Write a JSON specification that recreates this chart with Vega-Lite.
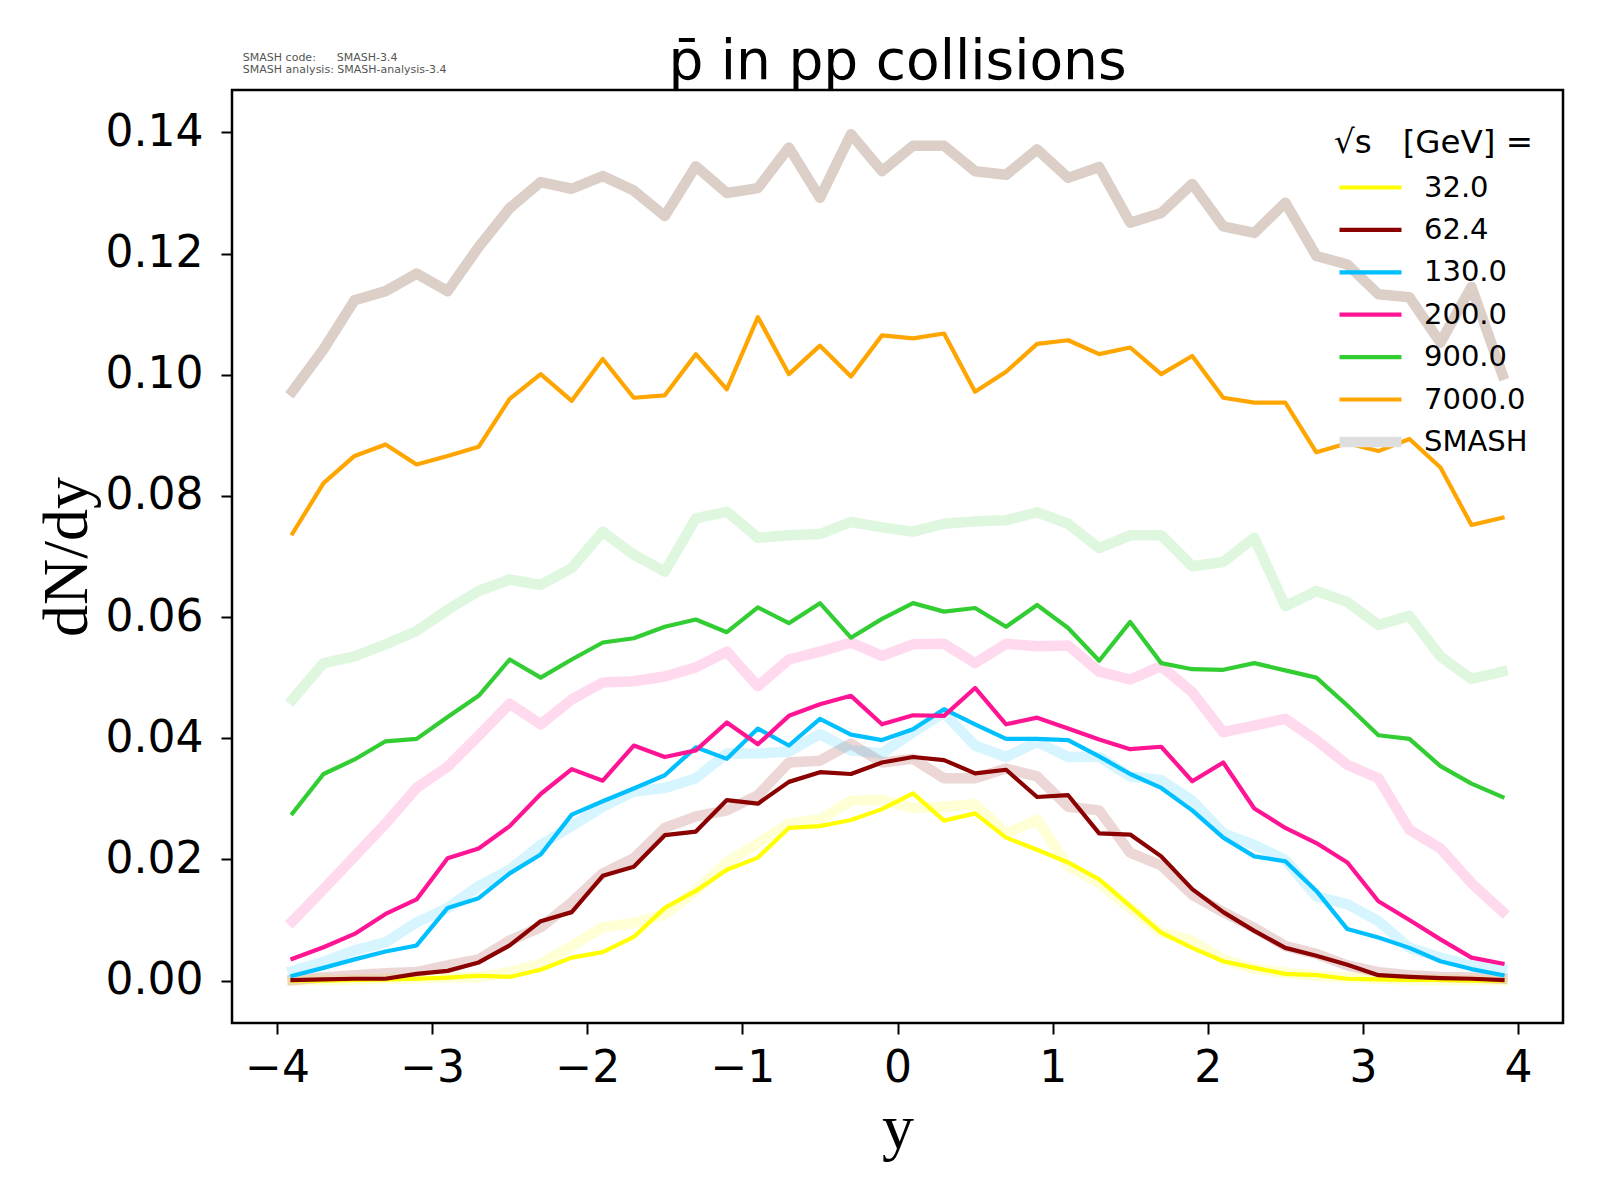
{
  "$schema": "https://vega.github.io/schema/vega-lite/v6.json",
  "width": 1331,
  "height": 933,
  "autosize": {"type": "none"},
  "padding": {"left": 232, "top": 90, "right": 37, "bottom": 177},
  "background": "white",
  "config": {
    "view": {"stroke": "black", "strokeWidth": 2.5},
    "axis": {
      "grid": false,
      "domain": false,
      "tickSize": 11,
      "tickWidth": 2,
      "tickColor": "black",
      "labelFont": "DejaVu Sans",
      "labelFontSize": 44,
      "labelColor": "black",
      "titleFont": "Liberation Serif",
      "titleFontSize": 64,
      "titleFontWeight": "normal",
      "titleColor": "black"
    },
    "legend": {
      "orient": "none",
      "legendX": 1102,
      "legendY": 37,
      "padding": 0,
      "symbolType": "stroke",
      "symbolSize": 3844,
      "symbolStrokeWidth": 4.2,
      "symbolOffset": 22,
      "clipHeight": 30,
      "labelFont": "DejaVu Sans",
      "labelFontSize": 29,
      "labelColor": "black",
      "labelOffset": 39,
      "rowPadding": 12.4,
      "titleFont": "DejaVu Sans",
      "titleFontSize": 32.5,
      "titleFontWeight": "normal",
      "titleColor": "black",
      "titlePadding": 13,
      "titleLimit": 400
    }
  },
  "data": {
    "name": "rapidity",
    "values": [
      {"y": -3.9, "e32": 0.0000, "e62": 0.0001, "e130": 0.0008, "e200": 0.0036, "e900": 0.0276, "e7000": 0.0738, "s32": 0.0000, "s62": 0.0001, "s130": 0.0016, "s200": 0.0098, "s900": 0.0464, "s7000": 0.0973},
      {"y": -3.7, "e32": 0.0000, "e62": 0.0002, "e130": 0.0021, "e200": 0.0055, "e900": 0.0341, "e7000": 0.0821, "s32": 0.0001, "s62": 0.0005, "s130": 0.0031, "s200": 0.0151, "s900": 0.0524, "s7000": 0.1042},
      {"y": -3.5, "e32": 0.0001, "e62": 0.0003, "e130": 0.0035, "e200": 0.0077, "e900": 0.0365, "e7000": 0.0866, "s32": 0.0002, "s62": 0.0009, "s130": 0.0050, "s200": 0.0205, "s900": 0.0535, "s7000": 0.1123},
      {"y": -3.3, "e32": 0.0002, "e62": 0.0003, "e130": 0.0048, "e200": 0.0110, "e900": 0.0395, "e7000": 0.0885, "s32": 0.0003, "s62": 0.0012, "s130": 0.0063, "s200": 0.0259, "s900": 0.0555, "s7000": 0.1138},
      {"y": -3.1, "e32": 0.0003, "e62": 0.0011, "e130": 0.0058, "e200": 0.0134, "e900": 0.0399, "e7000": 0.0852, "s32": 0.0004, "s62": 0.0014, "s130": 0.0096, "s200": 0.0318, "s900": 0.0577, "s7000": 0.1167},
      {"y": -2.9, "e32": 0.0005, "e62": 0.0016, "e130": 0.0120, "e200": 0.0202, "e900": 0.0435, "e7000": 0.0866, "s32": 0.0005, "s62": 0.0025, "s130": 0.0120, "s200": 0.0353, "s900": 0.0612, "s7000": 0.1138},
      {"y": -2.7, "e32": 0.0008, "e62": 0.0030, "e130": 0.0136, "e200": 0.0218, "e900": 0.0470, "e7000": 0.0881, "s32": 0.0006, "s62": 0.0035, "s130": 0.0156, "s200": 0.0404, "s900": 0.0643, "s7000": 0.1211},
      {"y": -2.5, "e32": 0.0006, "e62": 0.0058, "e130": 0.0177, "e200": 0.0255, "e900": 0.0530, "e7000": 0.0960, "s32": 0.0014, "s62": 0.0066, "s130": 0.0183, "s200": 0.0457, "s900": 0.0662, "s7000": 0.1275},
      {"y": -2.3, "e32": 0.0018, "e62": 0.0098, "e130": 0.0208, "e200": 0.0308, "e900": 0.0500, "e7000": 0.1001, "s32": 0.0028, "s62": 0.0088, "s130": 0.0224, "s200": 0.0423, "s900": 0.0653, "s7000": 0.1318},
      {"y": -2.1, "e32": 0.0038, "e62": 0.0113, "e130": 0.0274, "e200": 0.0349, "e900": 0.0530, "e7000": 0.0957, "s32": 0.0057, "s62": 0.0129, "s130": 0.0255, "s200": 0.0464, "s900": 0.0681, "s7000": 0.1307},
      {"y": -1.9, "e32": 0.0047, "e62": 0.0173, "e130": 0.0296, "e200": 0.0330, "e900": 0.0558, "e7000": 0.1026, "s32": 0.0088, "s62": 0.0177, "s130": 0.0287, "s200": 0.0492, "s900": 0.0741, "s7000": 0.1328},
      {"y": -1.7, "e32": 0.0072, "e62": 0.0188, "e130": 0.0317, "e200": 0.0388, "e900": 0.0565, "e7000": 0.0962, "s32": 0.0095, "s62": 0.0202, "s130": 0.0312, "s200": 0.0494, "s900": 0.0703, "s7000": 0.1304},
      {"y": -1.5, "e32": 0.0120, "e62": 0.0240, "e130": 0.0339, "e200": 0.0369, "e900": 0.0584, "e7000": 0.0966, "s32": 0.0110, "s62": 0.0252, "s130": 0.0318, "s200": 0.0502, "s900": 0.0675, "s7000": 0.1262},
      {"y": -1.3, "e32": 0.0148, "e62": 0.0246, "e130": 0.0385, "e200": 0.0380, "e900": 0.0596, "e7000": 0.1034, "s32": 0.0148, "s62": 0.0271, "s130": 0.0334, "s200": 0.0517, "s900": 0.0763, "s7000": 0.1344},
      {"y": -1.1, "e32": 0.0183, "e62": 0.0298, "e130": 0.0366, "e200": 0.0426, "e900": 0.0575, "e7000": 0.0976, "s32": 0.0195, "s62": 0.0281, "s130": 0.0375, "s200": 0.0543, "s900": 0.0774, "s7000": 0.1300},
      {"y": -0.9, "e32": 0.0203, "e62": 0.0292, "e130": 0.0416, "e200": 0.0390, "e900": 0.0616, "e7000": 0.1095, "s32": 0.0227, "s62": 0.0306, "s130": 0.0375, "s200": 0.0486, "s900": 0.0731, "s7000": 0.1308},
      {"y": -0.7, "e32": 0.0252, "e62": 0.0328, "e130": 0.0388, "e200": 0.0437, "e900": 0.0590, "e7000": 0.1001, "s32": 0.0259, "s62": 0.0360, "s130": 0.0378, "s200": 0.0530, "s900": 0.0735, "s7000": 0.1375},
      {"y": -0.5, "e32": 0.0255, "e62": 0.0344, "e130": 0.0432, "e200": 0.0456, "e900": 0.0623, "e7000": 0.1048, "s32": 0.0266, "s62": 0.0363, "s130": 0.0407, "s200": 0.0543, "s900": 0.0737, "s7000": 0.1292},
      {"y": -0.3, "e32": 0.0265, "e62": 0.0341, "e130": 0.0406, "e200": 0.0470, "e900": 0.0566, "e7000": 0.0997, "s32": 0.0297, "s62": 0.0391, "s130": 0.0380, "s200": 0.0558, "s900": 0.0757, "s7000": 0.1397},
      {"y": -0.1, "e32": 0.0283, "e62": 0.0360, "e130": 0.0397, "e200": 0.0423, "e900": 0.0597, "e7000": 0.1065, "s32": 0.0298, "s62": 0.0360, "s130": 0.0375, "s200": 0.0536, "s900": 0.0748, "s7000": 0.1336},
      {"y": 0.1, "e32": 0.0309, "e62": 0.0369, "e130": 0.0415, "e200": 0.0438, "e900": 0.0623, "e7000": 0.1060, "s32": 0.0285, "s62": 0.0366, "s130": 0.0410, "s200": 0.0555, "s900": 0.0741, "s7000": 0.1378},
      {"y": 0.3, "e32": 0.0264, "e62": 0.0364, "e130": 0.0448, "e200": 0.0437, "e900": 0.0609, "e7000": 0.1068, "s32": 0.0287, "s62": 0.0334, "s130": 0.0442, "s200": 0.0556, "s900": 0.0754, "s7000": 0.1378},
      {"y": 0.5, "e32": 0.0276, "e62": 0.0342, "e130": 0.0423, "e200": 0.0483, "e900": 0.0615, "e7000": 0.0972, "s32": 0.0291, "s62": 0.0334, "s130": 0.0388, "s200": 0.0524, "s900": 0.0758, "s7000": 0.1336},
      {"y": 0.7, "e32": 0.0236, "e62": 0.0348, "e130": 0.0399, "e200": 0.0423, "e900": 0.0584, "e7000": 0.1005, "s32": 0.0243, "s62": 0.0350, "s130": 0.0369, "s200": 0.0556, "s900": 0.0760, "s7000": 0.1330},
      {"y": 0.9, "e32": 0.0216, "e62": 0.0303, "e130": 0.0399, "e200": 0.0434, "e900": 0.0620, "e7000": 0.1051, "s32": 0.0265, "s62": 0.0337, "s130": 0.0394, "s200": 0.0552, "s900": 0.0773, "s7000": 0.1372},
      {"y": 1.1, "e32": 0.0195, "e62": 0.0306, "e130": 0.0397, "e200": 0.0416, "e900": 0.0582, "e7000": 0.1057, "s32": 0.0189, "s62": 0.0287, "s130": 0.0369, "s200": 0.0553, "s900": 0.0754, "s7000": 0.1325},
      {"y": 1.3, "e32": 0.0167, "e62": 0.0243, "e130": 0.0370, "e200": 0.0398, "e900": 0.0528, "e7000": 0.1034, "s32": 0.0161, "s62": 0.0281, "s130": 0.0369, "s200": 0.0510, "s900": 0.0714, "s7000": 0.1343},
      {"y": 1.5, "e32": 0.0123, "e62": 0.0241, "e130": 0.0341, "e200": 0.0382, "e900": 0.0592, "e7000": 0.1045, "s32": 0.0120, "s62": 0.0211, "s130": 0.0337, "s200": 0.0497, "s900": 0.0735, "s7000": 0.1251},
      {"y": 1.7, "e32": 0.0079, "e62": 0.0205, "e130": 0.0318, "e200": 0.0386, "e900": 0.0524, "e7000": 0.1001, "s32": 0.0079, "s62": 0.0190, "s130": 0.0331, "s200": 0.0519, "s900": 0.0735, "s7000": 0.1267},
      {"y": 1.9, "e32": 0.0054, "e62": 0.0151, "e130": 0.0281, "e200": 0.0329, "e900": 0.0514, "e7000": 0.1031, "s32": 0.0066, "s62": 0.0142, "s130": 0.0297, "s200": 0.0476, "s900": 0.0684, "s7000": 0.1315},
      {"y": 2.1, "e32": 0.0032, "e62": 0.0113, "e130": 0.0236, "e200": 0.0360, "e900": 0.0513, "e7000": 0.0962, "s32": 0.0035, "s62": 0.0113, "s130": 0.0243, "s200": 0.0410, "s900": 0.0691, "s7000": 0.1245},
      {"y": 2.3, "e32": 0.0021, "e62": 0.0082, "e130": 0.0205, "e200": 0.0284, "e900": 0.0524, "e7000": 0.0954, "s32": 0.0019, "s62": 0.0087, "s130": 0.0224, "s200": 0.0421, "s900": 0.0731, "s7000": 0.1234},
      {"y": 2.5, "e32": 0.0011, "e62": 0.0054, "e130": 0.0197, "e200": 0.0252, "e900": 0.0512, "e7000": 0.0954, "s32": 0.0013, "s62": 0.0057, "s130": 0.0199, "s200": 0.0432, "s900": 0.0618, "s7000": 0.1284},
      {"y": 2.7, "e32": 0.0009, "e62": 0.0041, "e130": 0.0148, "e200": 0.0227, "e900": 0.0500, "e7000": 0.0872, "s32": 0.0008, "s62": 0.0044, "s130": 0.0139, "s200": 0.0397, "s900": 0.0643, "s7000": 0.1196},
      {"y": 2.9, "e32": 0.0003, "e62": 0.0026, "e130": 0.0085, "e200": 0.0195, "e900": 0.0454, "e7000": 0.0887, "s32": 0.0005, "s62": 0.0025, "s130": 0.0126, "s200": 0.0356, "s900": 0.0625, "s7000": 0.1182},
      {"y": 3.1, "e32": 0.0002, "e62": 0.0009, "e130": 0.0071, "e200": 0.0131, "e900": 0.0405, "e7000": 0.0874, "s32": 0.0003, "s62": 0.0014, "s130": 0.0098, "s200": 0.0334, "s900": 0.0587, "s7000": 0.1133},
      {"y": 3.3, "e32": 0.0001, "e62": 0.0006, "e130": 0.0054, "e200": 0.0100, "e900": 0.0399, "e7000": 0.0894, "s32": 0.0002, "s62": 0.0009, "s130": 0.0054, "s200": 0.0249, "s900": 0.0602, "s7000": 0.1128},
      {"y": 3.5, "e32": 0.0001, "e62": 0.0004, "e130": 0.0032, "e200": 0.0068, "e900": 0.0354, "e7000": 0.0847, "s32": 0.0001, "s62": 0.0006, "s130": 0.0038, "s200": 0.0218, "s900": 0.0535, "s7000": 0.1053},
      {"y": 3.7, "e32": 0.0000, "e62": 0.0003, "e130": 0.0019, "e200": 0.0038, "e900": 0.0325, "e7000": 0.0752, "s32": 0.0001, "s62": 0.0005, "s130": 0.0025, "s200": 0.0161, "s900": 0.0498, "s7000": 0.1145},
      {"y": 3.9, "e32": 0.0000, "e62": 0.0001, "e130": 0.0009, "e200": 0.0028, "e900": 0.0303, "e7000": 0.0764, "s32": 0.0000, "s62": 0.0003, "s130": 0.0019, "s200": 0.0114, "s900": 0.0510, "s7000": 0.1000}
    ]
  },
  "layer": [
    {
      "description": "SMASH reference curves, wide and faint, under the model lines",
      "transform": [
        {"fold": ["s32", "s62", "s130", "s200", "s900", "s7000"], "as": ["series", "dndy"]}
      ],
      "mark": {"type": "line", "strokeWidth": 10.5, "strokeCap": "square", "strokeJoin": "round"},
      "encoding": {
        "x": {
          "field": "y",
          "type": "quantitative",
          "scale": {"domain": [-4.29, 4.29], "nice": false, "zero": false},
          "axis": {"values": [-4, -3, -2, -1, 0, 1, 2, 3, 4], "format": "d", "title": "y", "labelPadding": 12, "titlePadding": 6}
        },
        "y": {
          "field": "dndy",
          "type": "quantitative",
          "scale": {"domain": [-0.007, 0.147], "nice": false, "zero": false},
          "axis": {"values": [0, 0.02, 0.04, 0.06, 0.08, 0.1, 0.12, 0.14], "format": ".2f", "title": "dN/dy", "labelPadding": 18, "titlePadding": 6}
        },
        "color": {
          "field": "series",
          "type": "nominal",
          "scale": {
            "domain": ["e32", "e62", "e130", "e200", "e900", "e7000", "smash", "s32", "s62", "s130", "s200", "s900", "s7000"],
            "range": ["#ffff00", "#8b0000", "#00bfff", "#ff1493", "#32cd32", "#ffa500", "#dedede", "#ffff00", "#8b0000", "#00bfff", "#ff1493", "#32cd32", "#733f23"]
          },
          "legend": {
            "title": "√s\u00a0\u00a0\u00a0[GeV] =",
            "values": ["e32", "e62", "e130", "e200", "e900", "e7000", "smash"],
            "labelExpr": "{'e32': '32.0', 'e62': '62.4', 'e130': '130.0', 'e200': '200.0', 'e900': '900.0', 'e7000': '7000.0', 'smash': 'SMASH'}[datum.label]",
            "encode": {
              "symbols": {"update": {"strokeWidth": {"signal": "datum.value === 'smash' ? 10.5 : 4.2"}, "opacity": {"value": 1}}}
            }
          }
        },
        "strokeOpacity": {
          "condition": {"test": "datum.series === 's7000'", "value": 0.25},
          "value": 0.16
        }
      }
    },
    {
      "description": "Model curves per collision energy",
      "transform": [
        {"fold": ["e32", "e62", "e130", "e200", "e900", "e7000"], "as": ["series", "dndy"]}
      ],
      "mark": {"type": "line", "strokeWidth": 4.2, "strokeCap": "square", "strokeJoin": "round"},
      "encoding": {
        "x": {"field": "y", "type": "quantitative"},
        "y": {"field": "dndy", "type": "quantitative"},
        "color": {
          "field": "series",
          "type": "nominal",
          "scale": {
            "domain": ["e32", "e62", "e130", "e200", "e900", "e7000", "smash", "s32", "s62", "s130", "s200", "s900", "s7000"],
            "range": ["#ffff00", "#8b0000", "#00bfff", "#ff1493", "#32cd32", "#ffa500", "#dedede", "#ffff00", "#8b0000", "#00bfff", "#ff1493", "#32cd32", "#733f23"]
          }
        }
      }
    },
    {
      "description": "Plot title, set in data space just above the frame",
      "data": {"values": [{"title": "p̄ in pp collisions"}]},
      "mark": {"type": "text", "align": "center", "baseline": "alphabetic", "font": "DejaVu Sans", "fontSize": 55, "color": "black"},
      "encoding": {
        "x": {"datum": 0, "type": "quantitative"},
        "y": {"datum": 0.1488, "type": "quantitative"},
        "text": {"field": "title"}
      }
    },
    {
      "description": "Version stamp above the frame",
      "data": {"values": [{"note": ["SMASH code:\u00a0\u00a0\u00a0\u00a0\u00a0\u00a0SMASH-3.4", "SMASH analysis: SMASH-analysis-3.4"]}]},
      "mark": {"type": "text", "align": "left", "baseline": "alphabetic", "font": "DejaVu Sans", "fontSize": 11, "color": "#555555", "lineHeight": 12.5},
      "encoding": {
        "x": {"datum": -4.22, "type": "quantitative"},
        "y": {"datum": 0.1518, "type": "quantitative"},
        "text": {"field": "note"}
      }
    }
  ]
}
